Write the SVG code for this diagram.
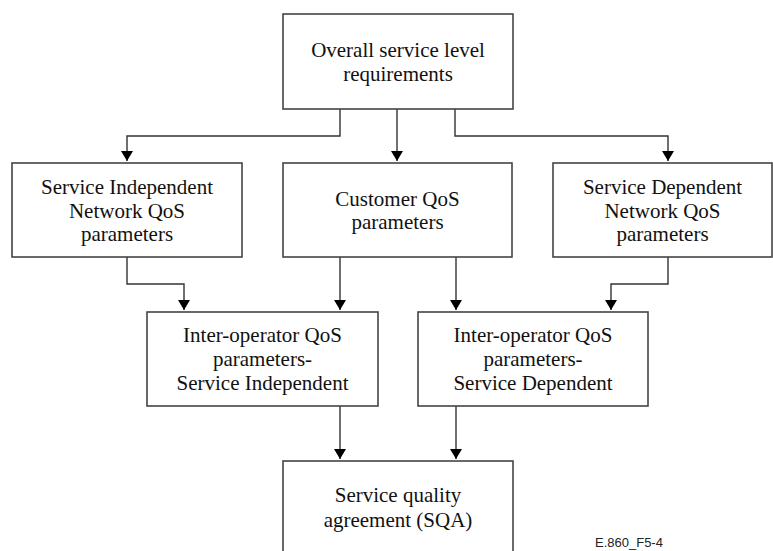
<svg xmlns="http://www.w3.org/2000/svg" width="773" height="551" viewBox="0 0 773 551">
<defs>
<style>
.box{fill:#fff;stroke:#444;stroke-width:1.6}
.t{font-family:"Liberation Serif","Times New Roman",serif;font-size:21px;fill:#111;text-anchor:middle}
.c{fill:none;stroke:#333;stroke-width:1.4}
.lbl{font-family:"Liberation Sans",Arial,sans-serif;font-size:13px;fill:#222}
</style>
<marker id="ah" viewBox="0 0 10 12" refX="10" refY="6" markerWidth="10" markerHeight="12" markerUnits="userSpaceOnUse" orient="auto">
<path d="M0,0 L10,6 L0,12 Z" fill="#000"/>
</marker>
</defs>
<rect width="773" height="551" fill="#fff"/>
<g id="connectors">
<path class="c" d="M340,109 V136 H127 V161" marker-end="url(#ah)"/>
<path class="c" d="M397,109 V161" marker-end="url(#ah)"/>
<path class="c" d="M455,109 V136 H668 V161" marker-end="url(#ah)"/>
<path class="c" d="M127,257 V284 H184 V310" marker-end="url(#ah)"/>
<path class="c" d="M340,257 V310" marker-end="url(#ah)"/>
<path class="c" d="M456,257 V310" marker-end="url(#ah)"/>
<path class="c" d="M668,257 V284 H611 V310" marker-end="url(#ah)"/>
<path class="c" d="M340,406 V459" marker-end="url(#ah)"/>
<path class="c" d="M456,406 V459" marker-end="url(#ah)"/>
</g>
<g id="overall">
<rect class="box" x="283" y="14" width="230" height="95"/>
<text class="t" x="398" y="57">Overall service level</text>
<text class="t" x="398" y="81">requirements</text>
</g>
<g id="si-network">
<rect class="box" x="12" y="163" width="230" height="94"/>
<text class="t" x="127" y="194">Service Independent</text>
<text class="t" x="127" y="218">Network QoS</text>
<text class="t" x="127" y="241">parameters</text>
</g>
<g id="customer">
<rect class="box" x="283" y="163" width="229" height="94"/>
<text class="t" x="397.5" y="206">Customer QoS</text>
<text class="t" x="397.5" y="229">parameters</text>
</g>
<g id="sd-network">
<rect class="box" x="553" y="163" width="219" height="94"/>
<text class="t" x="662.5" y="194">Service Dependent</text>
<text class="t" x="662.5" y="218">Network QoS</text>
<text class="t" x="662.5" y="241">parameters</text>
</g>
<g id="io-si">
<rect class="box" x="147" y="312" width="231" height="94"/>
<text class="t" x="262.5" y="342">Inter-operator QoS</text>
<text class="t" x="262.5" y="366">parameters-</text>
<text class="t" x="262.5" y="390">Service Independent</text>
</g>
<g id="io-sd">
<rect class="box" x="418" y="312" width="230" height="94"/>
<text class="t" x="533" y="342">Inter-operator QoS</text>
<text class="t" x="533" y="366">parameters-</text>
<text class="t" x="533" y="390">Service Dependent</text>
</g>
<g id="sqa">
<rect class="box" x="283" y="461" width="230" height="100"/>
<text class="t" x="398" y="502">Service quality</text>
<text class="t" x="398" y="527">agreement (SQA)</text>
</g>
<text class="lbl" x="595" y="547">E.860_F5-4</text>
</svg>
